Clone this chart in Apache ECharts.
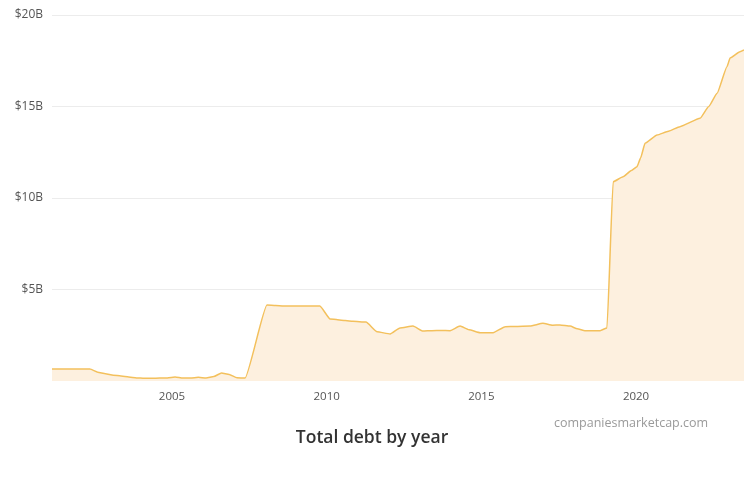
<!DOCTYPE html>
<html>
<head>
<meta charset="utf-8">
<script src="https://cdn.jsdelivr.net/npm/echarts@6/dist/echarts.min.js"></script>
<style>
html, body { margin: 0; padding: 0; background: #fff; }
#chart { width: 744px; height: 477px; }
</style>
</head>
<body>
<div id="chart"></div>
<script>
// decimal year of each report, total debt in $B
var years = [
	2001.12, 2001.5, 2001.75, 2002.0, 2002.35, 2002.6, 2002.85, 2003.1, 2003.35, 2003.6,
	2003.85, 2004.1, 2004.35, 2004.6, 2004.85, 2005.1, 2005.35, 2005.6, 2005.85, 2006.1,
	2006.35, 2006.6, 2006.85, 2007.1, 2007.36, 2008.07, 2008.35, 2008.6, 2008.85, 2009.1,
	2009.35, 2009.78, 2010.11, 2010.35, 2010.6, 2010.85, 2011.27, 2011.63, 2012.05, 2012.37,
	2012.79, 2013.11, 2013.4, 2013.7, 2013.99, 2014.31, 2014.6, 2014.96, 2015.38, 2015.77,
	2016.1, 2016.57, 2016.99, 2017.3, 2017.54, 2017.87, 2018.1, 2018.35, 2018.84, 2019.06,
	2019.26, 2019.58, 2019.85, 2020.03, 2020.15, 2020.29, 2020.68, 2021.05, 2021.42, 2022.07,
	2022.35, 2022.62, 2022.94, 2023.04, 2023.36, 2023.49
];
var debt = [
	0.66, 0.66, 0.66, 0.66, 0.65, 0.48, 0.40, 0.32, 0.27, 0.22,
	0.17, 0.15, 0.15, 0.16, 0.17, 0.22, 0.16, 0.16, 0.20, 0.16,
	0.24, 0.44, 0.36, 0.18, 0.16, 4.15, 4.12, 4.10, 4.10, 4.10,
	4.10, 4.10, 3.39, 3.35, 3.30, 3.26, 3.22, 2.69, 2.57, 2.90,
	3.00, 2.73, 2.75, 2.76, 2.75, 3.00, 2.80, 2.64, 2.64, 2.97,
	2.98, 3.00, 3.15, 3.05, 3.06, 3.00, 2.85, 2.75, 2.75, 2.90,
	10.89, 11.16, 11.50, 11.71, 12.20, 12.99, 13.44, 13.65, 13.90, 14.36,
	15.00, 15.72, 17.17, 17.65, 17.99, 18.09
];
var yearTicks = [2005, 2010, 2015, 2020];

var points = [];
for (var i = 0; i < years.length; i++) {
	points.push([years[i], debt[i]]);
}

var myChart = echarts.init(document.getElementById('chart'));
var option = {
	animation: false,
	textStyle: {
		fontFamily: 'Open Sans'
	},
	grid: {
		left: 52,
		right: 0,
		top: 15,
		bottom: 96
	},
	xAxis: {
		type: 'value',
		min: years[0],
		max: years[years.length - 1],
		axisLine: {show: false},
		axisTick: {show: false},
		splitLine: {show: false},
		axisLabel: {
			customValues: yearTicks,
			color: '#555',
			fontSize: 11.5,
			margin: 10,
			formatter: function(v) {
				return String(v);
			}
		}
	},
	yAxis: {
		type: 'value',
		min: 0,
		max: 20,
		interval: 5,
		axisLine: {show: false},
		axisTick: {show: false},
		splitLine: {
			lineStyle: {
				color: ['rgba(0,0,0,0)', '#ececec', '#ececec', '#ececec', '#ececec']
			}
		},
		axisLabel: {
			color: '#555',
			fontSize: 12,
			margin: 9,
			formatter: function(v) {
				return v === 0 ? '' : '$' + v + 'B';
			}
		}
	},
	series: [
		{
			type: 'line',
			data: points,
			symbol: 'none',
			smooth: 0.15,
			smoothMonotone: 'x',
			lineStyle: {
				color: '#f3c05c',
				width: 1.5
			},
			areaStyle: {
				color: '#fdf0df',
				opacity: 1
			}
		}
	],
	graphic: [
		{
			type: 'text',
			left: 554,
			top: 417,
			style: {
				text: 'companiesmarketcap.com',
				fill: '#9a9a9a',
				font: '12.5px "Open Sans"'
			}
		},
		{
			type: 'text',
			left: 'center',
			top: 429,
			style: {
				text: 'Total debt by year',
				fill: '#333',
				font: '600 17.5px "Open Sans"'
			}
		}
	]
};
myChart.setOption(option);
</script>
</body>
</html>
